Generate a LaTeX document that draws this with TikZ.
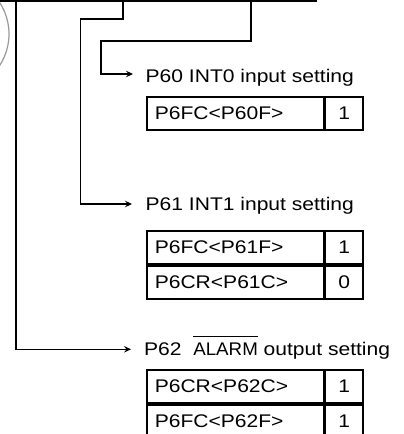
\documentclass[tikz,border=0pt]{standalone}
\usepackage{fontspec}
\setmainfont{Liberation Sans}
\usepackage{graphicx}
\usepackage{tikz}
\usetikzlibrary{arrows.meta,positioning,calc}
\newcommand{\wtext}[1]{\scalebox{1.15}[1]{#1}}

\begin{document}
\begin{tikzpicture}[x=1pt,y=-1pt,
  wire/.style={line width=1.2pt},
  feed/.style={wire,-{Stealth[length=7pt,width=6.5pt,inset=2.5pt]}},
  caption/.style={anchor=base west,inner sep=0pt,font=\fontsize{18.3}{22}\selectfont},
  regcell/.style={draw,line width=1.6pt,minimum width=176.7pt,minimum height=33.3pt,inner xsep=8pt,inner ysep=0pt,text width=160.7pt,align=left,font=\fontsize{18.3}{22}\selectfont},
  bitcell/.style={draw,line width=1.6pt,minimum width=38pt,minimum height=33.3pt,inner sep=0pt,font=\fontsize{18.3}{22}\selectfont}]
\useasboundingbox (0,0) rectangle (404,434);
% cut-off parts at the top
\draw[line width=4pt] (0,0) -- (317,0);
\draw[black!40,line width=1.2pt] (-49,34) circle[radius=58];
% branch lines
\coordinate (top0) at (251,0);
\coordinate (top1) at (123,0);
\coordinate (top2) at (16,0);
\coordinate (tip0) at (133,74);
\coordinate (tip1) at (132,204);
\coordinate (tip2) at (131,349.3);
\draw[feed] (top0) |- (101,41) |- (tip0);
\draw[feed] (top1) |- (80.7,19) |- (tip1);
\draw[feed] (top2) |- (tip2);
% P60
\node[caption] (lbl0) at (145.5,82.3) {\wtext{P60 INT0 input setting}};
\node[regcell,anchor=north west] (reg0) at (146,96) {\wtext{P6FC<P60F>}};
\node[bitcell,right=0pt of reg0] (bit0) {\wtext{1}};
% P61
\node[caption] (lbl1) at (145.5,210.7) {\wtext{P61 INT1 input setting}};
\node[regcell,anchor=north west] (reg1a) at (146,230) {\wtext{P6FC<P61F>}};
\node[bitcell,right=0pt of reg1a] (bit1a) {\wtext{1}};
\node[regcell,below=0pt of reg1a] (reg1b) {\wtext{P6CR<P61C>}};
\node[bitcell,right=0pt of reg1b] (bit1b) {\wtext{0}};
% P62
\node[caption] (lbl2) at (144,355) {\wtext{P62\ \ $\overline{\mbox{\rule{0pt}{17pt}\scalebox{0.89}[1]{ALARM}}}$ output setting}};
\node[regcell,anchor=north west] (reg2a) at (146,369) {\wtext{P6CR<P62C>}};
\node[bitcell,right=0pt of reg2a] (bit2a) {\wtext{1}};
\node[regcell,below=0pt of reg2a] (reg2b) {\wtext{P6FC<P62F>}};
\node[bitcell,right=0pt of reg2b] (bit2b) {\wtext{1}};
\end{tikzpicture}
\end{document}
